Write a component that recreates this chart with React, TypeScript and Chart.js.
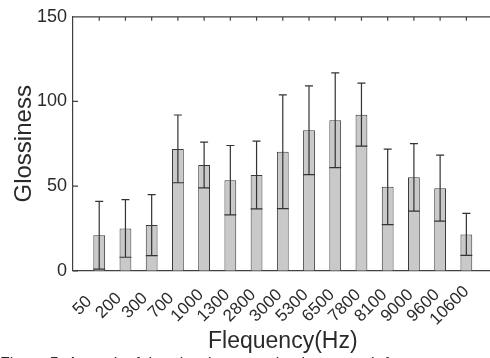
import { useEffect, useRef } from "react";
import { Chart, registerables } from "chart.js";

Chart.register(...registerables);

const categories = ["50", "200", "300", "700", "1000", "1300", "2800", "3000", "5300", "6500", "7800", "8100", "9000", "9600", "10600"];
const means = [21, 25, 27, 72, 62.5, 53.5, 56.6, 70.3, 83, 88.9, 92.2, 49.6, 55.2, 48.8, 21.5];
const sds = [20, 17, 18, 20, 13.5, 20.5, 20, 33.6, 26.2, 28, 18.6, 22.3, 19.9, 19.5, 12.4];
const yTicks = [0, 50, 100, 150];
const xTitle = "Flequency(Hz)";
const yTitle = "Glossiness";
const caption = "Figure 5. A result of the glossiness evaluation at each frequency";

const FONT = "'Liberation Sans', Arial, sans-serif";
const AXIS = "#404040";
const TEXT = "#2a2a2a";

const maxLen = Math.max(...categories.map((c) => c.length));

const decoPlugin = {
  id: "deco",
  afterDatasetsDraw(chart: any) {
    const { ctx, chartArea, scales } = chart;
    const x = scales.x;
    const y = scales.y;
    const meta = chart.getDatasetMeta(0);
    ctx.save();
    ctx.strokeStyle = "#333";
    ctx.lineWidth = 1.2;
    meta.data.forEach((bar: any, i: number) => {
      const idx = i - 1;
      if (idx < 0 || idx >= means.length) return;
      const m = means[idx];
      const s = sds[idx];
      const yl = y.getPixelForValue(m - s);
      const yh = y.getPixelForValue(m + s);
      const cx = bar.x;
      const half = bar.width / 2;
      ctx.beginPath();
      ctx.moveTo(cx, yl);
      ctx.lineTo(cx, yh);
      ctx.moveTo(cx - 4, yh);
      ctx.lineTo(cx + 4, yh);
      ctx.moveTo(cx - half, yl);
      ctx.lineTo(cx + half, yl);
      ctx.stroke();
    });
    ctx.strokeStyle = AXIS;
    ctx.lineWidth = 1.2;
    ctx.beginPath();
    ctx.moveTo(chartArea.left, chartArea.top);
    ctx.lineTo(chartArea.right, chartArea.top);
    for (let i = 1; i <= categories.length; i++) {
      const px = x.getPixelForValue(i);
      ctx.moveTo(px, chartArea.top);
      ctx.lineTo(px, chartArea.top + 4);
    }
    yTicks.forEach((v) => {
      const py = y.getPixelForValue(v);
      ctx.moveTo(chartArea.left, py);
      ctx.lineTo(chartArea.left + 5, py);
    });
    ctx.stroke();
    ctx.restore();
  },
};

export default function App() {
  const ref = useRef<HTMLCanvasElement>(null);

  useEffect(() => {
    if (!ref.current) return;
    Chart.defaults.font.family = FONT;
    const labels = ["", ...categories, ""];
    const data = [null, ...means, null];
    const chart = new Chart(ref.current, {
      type: "bar",
      data: {
        labels,
        datasets: [
          {
            data,
            backgroundColor: "#c9c9c9",
            borderColor: "#3a3a3a",
            borderWidth: 1,
            categoryPercentage: 1,
            barPercentage: 0.45,
          },
        ],
      },
      options: {
        responsive: false,
        animation: false,
        devicePixelRatio: 1,
        layout: { padding: { left: 0, right: 13, top: 14, bottom: 0 } },
        plugins: {
          legend: { display: false },
          tooltip: { enabled: false },
          subtitle: {
            display: true,
            position: "bottom",
            align: "start",
            text: caption,
            color: TEXT,
            font: { size: 16, family: FONT },
            padding: { top: 4, bottom: 6 },
          },
        },
        scales: {
          x: {
            type: "category",
            offset: false,
            grid: { display: false },
            border: { display: true, color: AXIS, width: 1.2 },
            ticks: {
              autoSkip: false,
              maxRotation: 45,
              minRotation: 45,
              color: TEXT,
              font: { size: 17, family: FONT },
              padding: 3,
              callback: (_v: any, i: number) => {
                const l = labels[i];
                if (!l) return "";
                return l + " ".repeat(maxLen - l.length);
              },
            },
            title: {
              display: true,
              text: xTitle,
              color: TEXT,
              font: { size: 23, family: FONT },
              padding: { top: 0, bottom: -5 },
            },
            afterFit: (s: any) => {
              s.height = 80;
            },
          },
          y: {
            min: 0,
            max: 150,
            grid: { display: false, drawTicks: false },
            border: { display: true, color: AXIS, width: 1.2 },
            afterBuildTicks: (s: any) => {
              s.ticks = yTicks.map((v) => ({ value: v }));
            },
            ticks: {
              color: TEXT,
              font: { size: 18, family: FONT },
              padding: 6,
            },
            title: {
              display: true,
              text: yTitle,
              color: TEXT,
              font: { size: 24, family: FONT },
              padding: { top: 10, bottom: 0 },
            },
            afterFit: (s: any) => {
              s.width = 73;
            },
          },
        },
      },
      plugins: [decoPlugin],
    });
    return () => chart.destroy();
  }, []);

  return (
    <div
      style={{
        position: "fixed",
        left: 0,
        top: 0,
        width: 490,
        height: 358,
        overflow: "hidden",
        background: "#fff",
      }}
    >
      <canvas ref={ref} width={510} height={380} style={{ display: "block" }} />
    </div>
  );
}
